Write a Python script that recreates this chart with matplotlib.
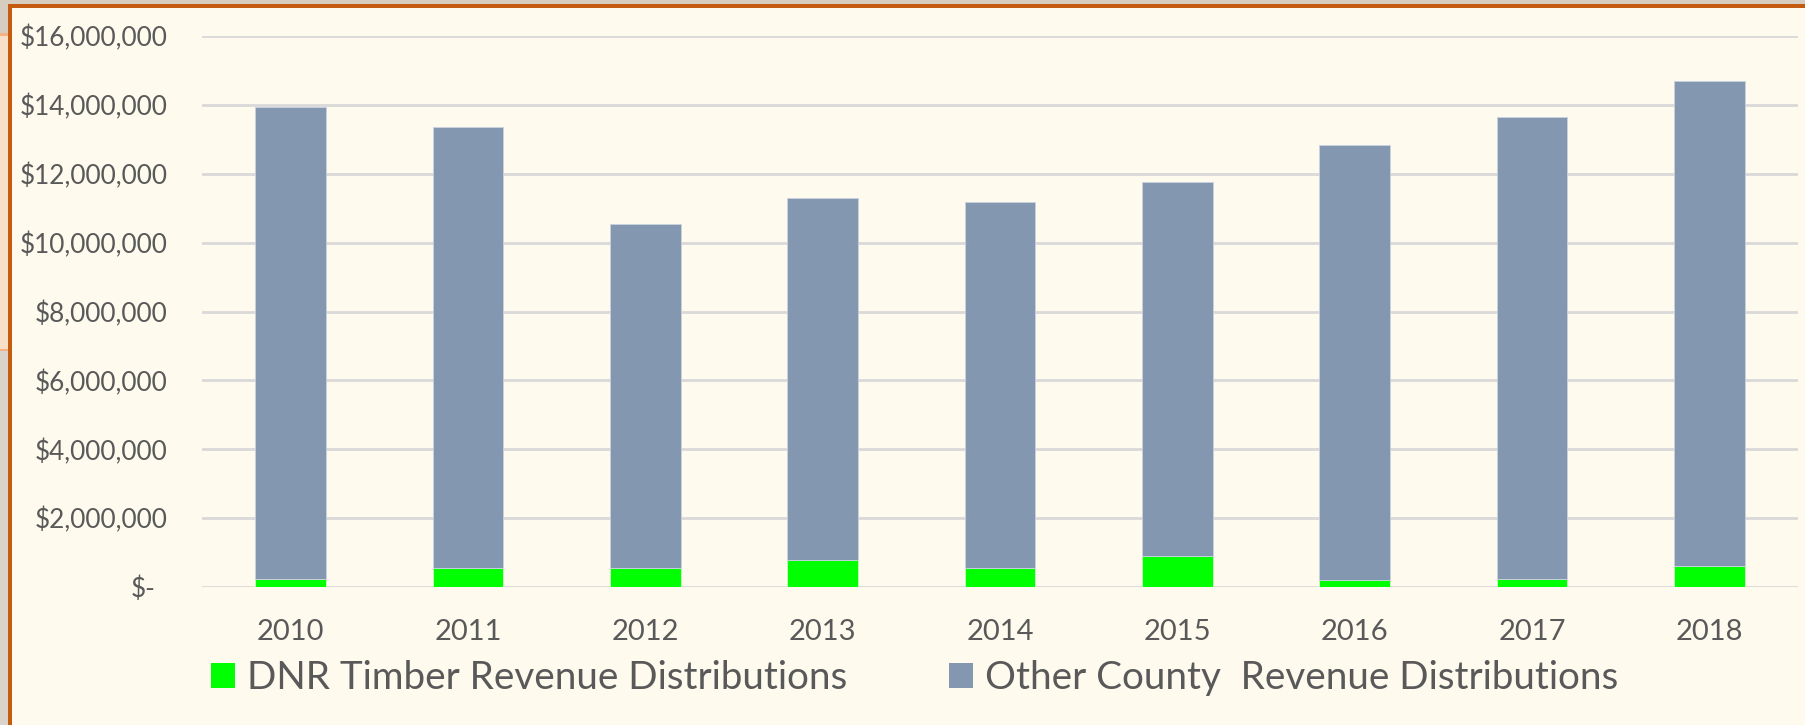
import matplotlib
matplotlib.use("Agg")
import matplotlib.pyplot as plt
from matplotlib.patches import Rectangle, Patch
from matplotlib.transforms import ScaledTranslation
from matplotlib.ticker import FuncFormatter, MultipleLocator

# ---- data (millions of dollars) ----
years = ["2010", "2011", "2012", "2013", "2014", "2015", "2016", "2017", "2018"]
dnr_timber = [0.24, 0.55, 0.56, 0.79, 0.55, 0.91, 0.19, 0.22, 0.60]
totals = [13.95, 13.36, 10.55, 11.30, 11.19, 11.77, 12.84, 13.66, 14.68]
other_county = [t - d for t, d in zip(totals, dnr_timber)]
series_labels = ["DNR Timber Revenue Distributions", "Other County  Revenue Distributions"]

W, H = 1806, 725
DPI = 100
BG = "#FEFAEE"
TXT = "#595959"
GREEN = "#00FF00"
BLUE = "#8497B0"
FONT = ["Lato", "DejaVu Sans"]

plt.rcParams["font.family"] = FONT

fig = plt.figure(figsize=(W / DPI, H / DPI), dpi=DPI)
fig.patch.set_facecolor(BG)

def px_rect(x0, y0, x1, y1, color):
    # pixel coords from top-left
    fig.patches.append(Rectangle((x0 / W, 1 - y1 / H), (x1 - x0) / W, (y1 - y0) / H,
                                 transform=fig.transFigure, facecolor=color,
                                 edgecolor="none", zorder=-5))

# decorative frame (slide background around the chart)
px_rect(0, 0, W, 3.5, "#D6CDC0")
px_rect(0, 0, 8, 35, "#D6CDC0")
px_rect(0, 35, 8, H, "#F8E0C8")
px_rect(0, 350, 8, H, "#D9D3CB")
px_rect(0, 33.5, 8, 36, "#F4B183")
px_rect(0, 348.5, 8, 351, "#F4B183")
px_rect(8, 3.5, W, 7.5, "#C55A11")
px_rect(8, 3.5, 12, H, "#C55A11")

# axes placement
left, right, top, zero = 202, 1798, 36, 587
ax = fig.add_axes([left / W, 1 - zero / H, (right - left) / W, (zero - top) / H])
ax.set_facecolor("none")

x = list(range(len(years)))
bw = 0.4
ax.bar(x, dnr_timber, width=bw, color=GREEN, edgecolor="#D5F5C8", linewidth=0.6,
       label=series_labels[0], zorder=3)
ax.bar(x, other_county, width=bw, bottom=dnr_timber, color=BLUE, edgecolor="#C9D2DE",
       linewidth=0.6, label=series_labels[1], zorder=3)

ax.set_xlim(-0.5, len(years) - 0.5)
ax.set_ylim(0, 16)
ax.yaxis.set_major_locator(MultipleLocator(2))

def fmt(v, pos):
    if abs(v) < 1e-9:
        return "$-"
    return "${:,.0f}".format(v * 1e6)

ax.yaxis.set_major_formatter(FuncFormatter(fmt))
ax.grid(axis="y", color="#D9D9D9", linewidth=2.0, zorder=0)
ax.set_axisbelow(True)
for s in ax.spines.values():
    s.set_visible(False)

ax.tick_params(axis="y", length=0, pad=25, labelsize=18.8, labelcolor=TXT)
ax.tick_params(axis="x", length=0, pad=23, labelsize=21, labelcolor=TXT)
ax.set_xticks(x)
ax.set_xticklabels(years)

fig.canvas.draw()
for lab in ax.get_yticklabels():
    if lab.get_text() == "$-":
        lab.set_transform(lab.get_transform() + ScaledTranslation(-12 / DPI, 0, fig.dpi_scale_trans))

handles = [Patch(facecolor=GREEN, edgecolor="none"), Patch(facecolor=BLUE, edgecolor="none")]
fig.legend(handles, series_labels, loc="center left",
           bbox_to_anchor=(211 / W, 1 - 678 / H), ncol=2, frameon=False,
           fontsize=27.8, labelcolor=TXT, handlelength=0.62, handleheight=0.62,
           handletextpad=0.31, columnspacing=2.64, borderaxespad=0, borderpad=0)

fig.savefig("out.png", dpi=DPI, facecolor=BG)
